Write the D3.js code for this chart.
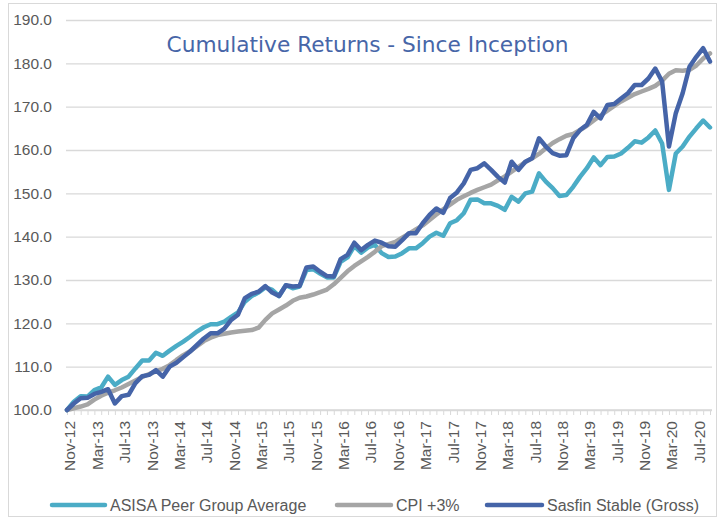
<!DOCTYPE html>
<html>
<head>
<meta charset="utf-8">
<script src="https://cdn.jsdelivr.net/npm/d3@7"></script>
<style>
  body { margin: 0; background: #fff; }
  svg { display: block; }
  text { font-family: "Liberation Sans", Arial, sans-serif; }
</style>
</head>
<body>
<svg id="chart"></svg>
<script>
// months Nov-12 .. Sep-20
var months = d3.timeMonth.range(new Date(2012, 10, 1), new Date(2020, 9, 1));
var fmtMonth = d3.timeFormat("%b-%y");

var asisa = [100, 101.9, 103.2, 103.1, 104.6, 105.2, 107.7, 105.8, 106.9, 107.7,
  109.6, 111.4, 111.4, 113.2, 112.5, 113.7, 114.8, 115.8, 116.9, 118.1,
  119.1, 119.8, 119.8, 120.4, 121.5, 122.5, 125, 126.3, 127.1, 128.3,
  127.7, 126.3, 128.8, 128.1, 128.5, 132.3, 132.5, 131.5, 130.6, 130.6,
  134.2, 135.2, 137.8, 136.3, 137.5, 138.1, 136.2, 135.3, 135.4, 136.2,
  137.3, 137.3, 138.5, 140, 140.9, 140.2, 143.1, 143.8, 145.4, 148.5,
  148.6, 147.7, 147.7, 147.1, 146.2, 149.2, 148.1, 150, 150.4, 154.6,
  152.7, 151.2, 149.4, 149.6, 151.5, 153.8, 155.8, 158.3, 156.5, 158.4,
  158.5, 159.2, 160.5, 162, 161.7, 162.9, 164.5, 161.5, 150.8, 159.2,
  160.8, 163.1, 165, 166.8, 165.2];

var cpi = [100, 100.4, 100.8, 101.3, 102.4, 103.3, 104.0, 104.55, 105.2, 106.0,
  106.8, 107.6, 108.3, 108.9, 109.5, 110.35, 111.55, 112.65, 113.55, 114.7,
  115.9, 116.7, 117.3, 117.6, 117.9, 118.1, 118.3, 118.45, 119.0, 120.8,
  122.3, 123.2, 124.1, 125.2, 125.9, 126.2, 126.65, 127.2, 127.8, 129.0,
  130.5, 132.0, 133.25, 134.3, 135.35, 136.5, 137.8, 138.3, 138.8, 139.75,
  140.7, 141.65, 142.6, 143.85, 145.1, 146.3, 147.4, 148.5, 149.3, 150.1,
  150.8, 151.4, 152.0, 153.0, 153.9, 155.0, 156.1, 157.2, 158.1, 159.1,
  160.4, 161.6, 162.5, 163.3, 163.7, 164.6, 165.6, 166.8, 167.95, 169.1,
  170.2, 171.2, 172.05, 172.9, 173.5, 174.1, 174.8, 176.0, 177.6, 178.4,
  178.3, 178.5, 179.5, 181.1, 182.3];

var sasfin = [100, 101.5, 102.7, 102.8, 103.7, 104.2, 104.8, 101.5, 103.2, 103.5,
  106.2, 107.8, 108.1, 109.2, 107.7, 110, 110.9, 112.2, 113.5, 115,
  116.5, 117.7, 117.7, 118.8, 120.8, 122, 125.8, 126.8, 127.3, 128.6,
  127.1, 126.3, 128.8, 128.5, 128.6, 132.9, 133.1, 131.9, 130.9, 130.8,
  134.8, 135.8, 138.6, 136.9, 138.1, 139.1, 138.6, 137.8, 137.7, 139.2,
  140.8, 140.8, 143.1, 145, 146.5, 145.5, 148.9, 150.2, 152.3, 155.4,
  155.8, 156.9, 155.4, 153.8, 152.5, 157.3, 155.4, 157.3, 158.1, 162.7,
  160.8, 159.3, 158.7, 158.8, 162.7, 164.6, 165.8, 168.8, 167.3, 170.4,
  170.6, 171.9, 173.1, 175, 175, 176.5, 178.8, 175.8, 160.8, 168.5,
  173.1, 179.2, 181.5, 183.5, 180.4];

var yTicks = [100, 110, 120, 130, 140, 150, 160, 170, 180, 190];

var series = [
  { name: "ASISA Peer Group Average", values: asisa, color: "#4BACC6" },
  { name: "CPI +3%", values: cpi, color: "#A5A5A5" },
  { name: "Sasfin Stable (Gross)", values: sasfin, color: "#4564A8" }
];

var W = 718, H = 517;
var plotL = 66, plotR = 712, plotT = 20, plotB = 410;
var sAxis = "#d9d9d9";
var sText = "#595959";

var svg = d3.select("#chart").attr("width", W).attr("height", H);

// рамка
svg.append("rect")
  .attr("x", 8.5).attr("y", 3.5)
  .attr("width", 708).attr("height", 513)
  .attr("fill", "#fff").attr("stroke", sAxis);

var x = d3.scalePoint()
  .domain(d3.range(months.length))
  .range([67, 710]);

var y = d3.scaleLinear()
  .domain([100, 190])
  .range([plotB, plotT]);

// ось y с сеткой
var gy = svg.append("g")
  .attr("transform", `translate(${plotL},0)`)
  .call(d3.axisLeft(y)
    .tickValues(yTicks)
    .tickFormat(d3.format(".1f"))
    .tickSize(-(plotR - plotL))
    .tickPadding(14));
gy.select(".domain").remove();
gy.selectAll("line").attr("stroke", sAxis).attr("stroke-width", 1.3);
gy.selectAll("text").attr("fill", sText).style("font-size", "15.5px");

// ось x
var gx = svg.append("g")
  .attr("transform", `translate(0,${plotB})`);
gx.call(d3.axisBottom(x).tickSize(5).tickFormat(""));
gx.select(".domain").attr("d", `M${plotL},0H${plotR}`).attr("stroke", sAxis).attr("stroke-width", 1.3);
gx.selectAll(".tick line").attr("stroke", sAxis);

gx.selectAll(".lbl")
  .data(d3.range(0, months.length, 4))
  .enter().append("text")
  .attr("class", "lbl")
  .attr("transform", d => `translate(${x(d) + 3},11) rotate(-90)`)
  .attr("text-anchor", "end")
  .attr("dy", "0.35em")
  .attr("fill", sText)
  .style("font-size", "15.5px")
  .text(d => fmtMonth(months[d]));

// линии
var line = d3.line()
  .x((d, i) => x(i))
  .y(d => y(d));

svg.selectAll(".series")
  .data(series)
  .enter().append("path")
  .attr("class", "series")
  .attr("fill", "none")
  .attr("stroke", d => d.color)
  .attr("stroke-width", 4.5)
  .attr("stroke-linejoin", "round")
  .attr("stroke-linecap", "round")
  .attr("d", d => line(d.values));

// заголовок
svg.append("text")
  .attr("x", 367.5).attr("y", 52)
  .attr("text-anchor", "middle")
  .attr("fill", "#4766A8")
  .style("font-family", "'DejaVu Sans', Verdana, sans-serif")
  .style("font-size", "21.7px")
  .text("Cumulative Returns - Since Inception");

// легенда
var legendPos = [{ x1: 52, x2: 105 }, { x1: 337, x2: 391 }, { x1: 487, x2: 542 }];
var lg = svg.append("g").attr("transform", "translate(0,505)");
series.forEach(function(s, i) {
  lg.append("line")
    .attr("x1", legendPos[i].x1).attr("x2", legendPos[i].x2)
    .attr("stroke", s.color).attr("stroke-width", 4.5)
    .attr("stroke-linecap", "round");
  lg.append("text")
    .attr("x", legendPos[i].x2 + 5)
    .attr("dy", "0.35em")
    .attr("fill", sText)
    .style("font-size", "16px")
    .text(s.name);
});
</script>
</body>
</html>
